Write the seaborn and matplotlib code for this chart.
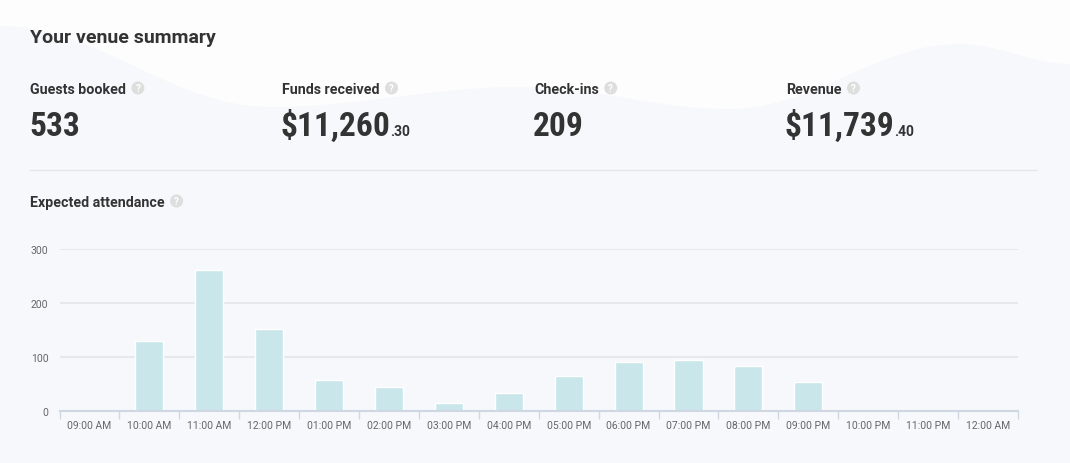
import matplotlib.pyplot as plt
import seaborn as sns
import pandas as pd
import numpy as np
from matplotlib.patches import Circle
from matplotlib import font_manager as fm

# chart data
hours = ['09:00 AM', '10:00 AM', '11:00 AM', '12:00 PM', '01:00 PM', '02:00 PM',
         '03:00 PM', '04:00 PM', '05:00 PM', '06:00 PM', '07:00 PM', '08:00 PM',
         '09:00 PM', '10:00 PM', '11:00 PM', '12:00 AM']
attendance = [0, 130, 261, 153, 57, 44, 16, 34, 65, 92, 95, 84, 54, 0, 0, 0]
y_ticks = [0, 100, 200, 300]

# summary tiles
stat_labels = ['Guests booked', 'Funds received', 'Check-ins', 'Revenue']
stat_values = ['533', '$11,260', '209', '$11,739']
stat_cents = ['', '.30', '', '.40']

BG = '#f7f8fc'
BG_TOP = '#fdfdfe'
DARK = '#333333'
BAR = '#c9e6ea'
GRID = '#e6e8ee'
AXIS = '#cfd8e2'
TICK_TXT = '#666666'
ICON = '#dedede'

sns.set_theme(style='white')
plt.rcParams['font.family'] = ['Roboto', 'DejaVu Sans']

# a condensed bold face for the big numbers, if one is installed
big_font = None
for f in fm.fontManager.ttflist:
    key = (f.name + ' ' + f.fname).lower()
    if 'condensed' in key and 'bold' in key and 'roboto' in key:
        big_font = fm.FontProperties(fname=f.fname)
        break
if big_font is None:
    for f in fm.fontManager.ttflist:
        key = f.fname.lower()
        if 'dejavusanscondensed-bold.' in key:
            big_font = fm.FontProperties(fname=f.fname)
            break
if big_font is None:
    big_font = fm.FontProperties(family='Roboto', weight='bold')
big_font.set_size(24)

W, H = 1070, 464
fig = plt.figure(figsize=(W / 100, H / 100), dpi=100)
fig.patch.set_facecolor(BG)
renderer = fig.canvas.get_renderer()

# background layer in pixel coordinates
bg = fig.add_axes([0, 0, 1, 1], zorder=-1)
bg.set_xlim(0, W)
bg.set_ylim(H, 0)
bg.axis('off')

# soft wave decoration at the top
anchor_x = [0, 270, 520, 730, 960, 1070]
anchor_y = [27, 108, 88, 110, 45, 65]
wx, wy = [], []
for i in range(len(anchor_x) - 1):
    t = np.linspace(0, 1, 60)
    s = (1 - np.cos(np.pi * t)) / 2
    wx.extend(anchor_x[i] + (anchor_x[i + 1] - anchor_x[i]) * t)
    wy.extend(anchor_y[i] + (anchor_y[i + 1] - anchor_y[i]) * s)
bg.fill_between(wx, 0, wy, color=BG_TOP, lw=0)


def help_icon(x, y):
    bg.add_patch(Circle((x, y), 6.5, color=ICON, lw=0))
    bg.text(x, y + 0.5, '?', ha='center', va='center', fontsize=7,
            color='white', fontweight='bold')


bg.text(30, 38, 'Your venue summary', fontsize=14, fontweight='bold',
        color=DARK, va='center', ha='left')

col_x = [30, 282, 534, 786]
for x, lab, val, cents in zip(col_x, stat_labels, stat_values, stat_cents):
    t = bg.text(x, 90, lab, fontsize=10.3, fontweight='bold', color=DARK,
                va='center', ha='left')
    bb = t.get_window_extent(renderer=renderer)
    help_icon(bb.x1 + 12, 89)
    v = bg.text(x - 1, 136, val, fontproperties=big_font, color=DARK,
                va='baseline', ha='left')
    if cents:
        vb = v.get_window_extent(renderer=renderer)
        bg.text(vb.x1 - 1, 136, cents, fontsize=10, fontweight='bold',
                color=DARK, va='baseline', ha='left')

bg.plot([30, 1037], [171, 171], color='#e4e6eb', lw=1)
t = bg.text(30, 203, 'Expected attendance', fontsize=10.2, fontweight='bold',
            color=DARK, va='center', ha='left')
bb = t.get_window_extent(renderer=renderer)
help_icon(bb.x1 + 12, 202)

# bar chart
ax_l, ax_r = 59.5 / W, 1018 / W
ax_b, ax_t = 1 - 412.3 / H, 1 - 250 / H
ax = fig.add_axes([ax_l, ax_b, ax_r - ax_l, ax_t - ax_b])
ax.set_facecolor('none')

df = pd.DataFrame({'hour': hours, 'attendance': attendance})
sns.barplot(data=df, x='hour', y='attendance', color=BAR, saturation=1,
            width=0.47, edgecolor='white', linewidth=1, ax=ax, zorder=3)

ax.set_xlim(-0.5, len(hours) - 0.5)
ax.set_ylim(0, 300)
ax.set_yticks(y_ticks)
ax.set_yticklabels([str(v) for v in y_ticks], fontsize=7.5, color=TICK_TXT)
for v in y_ticks[1:]:
    ax.axhline(v, color=GRID, lw=1.5, zorder=1)

ax.set_xticks(range(len(hours)))
ax.set_xticklabels(hours, fontsize=7.5, color=TICK_TXT)
ax.set_xticks(np.arange(-0.5, len(hours)), minor=True)
ax.tick_params(axis='x', which='major', length=0, pad=6)
ax.tick_params(axis='x', which='minor', length=6, width=1, color=AXIS,
               direction='out', bottom=True)
ax.tick_params(axis='y', length=0, pad=8)
ax.set_xlabel('')
ax.set_ylabel('')

for side in ['top', 'right', 'left']:
    ax.spines[side].set_visible(False)
ax.spines['bottom'].set_color(AXIS)
ax.spines['bottom'].set_linewidth(1.5)
ax.spines['bottom'].set_zorder(4)

fig.savefig('out.png', dpi=100, facecolor=BG)
